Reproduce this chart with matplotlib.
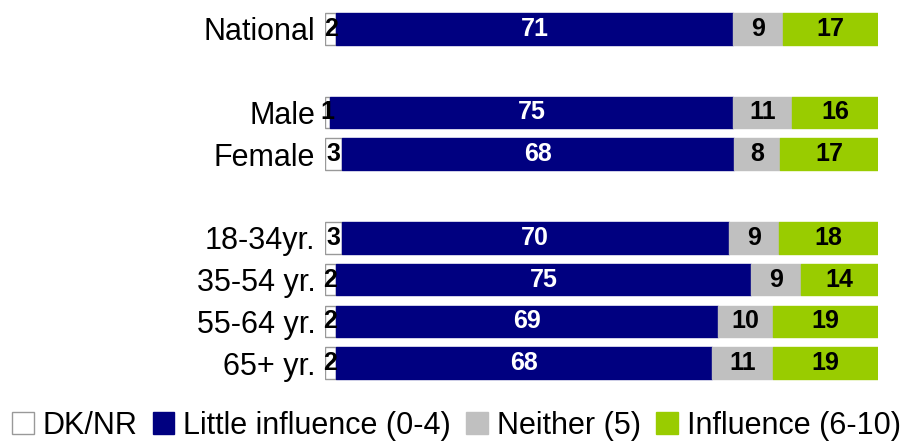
import matplotlib.pyplot as plt
import numpy as np

plt.rcParams['font.family'] = ['Liberation Sans', 'DejaVu Sans']

# data, top to bottom
groups = ['National', 'Male', 'Female', '18-34yr.', '35-54 yr.', '55-64 yr.', '65+ yr.']
slots = [0, 2, 3, 5, 6, 7, 8]
dk_nr = [2, 1, 3, 3, 2, 2, 2]
little = [71, 75, 68, 70, 75, 69, 68]
neither = [9, 11, 8, 9, 9, 10, 11]
influence = [17, 16, 17, 18, 14, 19, 19]

series = ['DK/NR', 'Little influence (0-4)', 'Neither (5)', 'Influence (6-10)']
colors = ['white', '#000080', '#C0C0C0', '#99CC00']
edges = ['#999999', '#000080', '#C0C0C0', '#99CC00']
txt_colors = ['black', 'white', 'black', 'black']

vals = np.array([dk_nr, little, neither, influence], dtype=float)
shares = vals / vals.sum(axis=0) * 100  # 100% stacked

fig = plt.figure(figsize=(9.13, 4.42), dpi=100)
ax = fig.add_axes([0.356, 0.131, 0.606, 0.851])

left = np.zeros(len(groups))
for i in range(4):
    ax.barh(slots, shares[i], left=left, height=0.76, color=colors[i],
            edgecolor=edges[i], linewidth=1, label=series[i])
    for y, l, w, v in zip(slots, left, shares[i], vals[i]):
        ax.text(l + w / 2, y, '%d' % v, ha='center', va='center',
                color=txt_colors[i], fontsize=18, fontweight='bold')
    left += shares[i]

ax.set_xlim(0, 100)
ax.set_ylim(8.5, -0.5)
ax.set_yticks(slots)
ax.set_yticklabels(groups, fontsize=22)
ax.tick_params(axis='y', length=0, pad=7)
ax.set_xticks([])
for s in ax.spines.values():
    s.set_visible(False)

fig.legend(loc='lower center', bbox_to_anchor=(0.5, -0.045), ncol=4, frameon=False,
           fontsize=22, handlelength=0.7, handleheight=0.7, handletextpad=0.3,
           columnspacing=0.5, borderpad=0.2)

fig.savefig('out.png', dpi=100)
